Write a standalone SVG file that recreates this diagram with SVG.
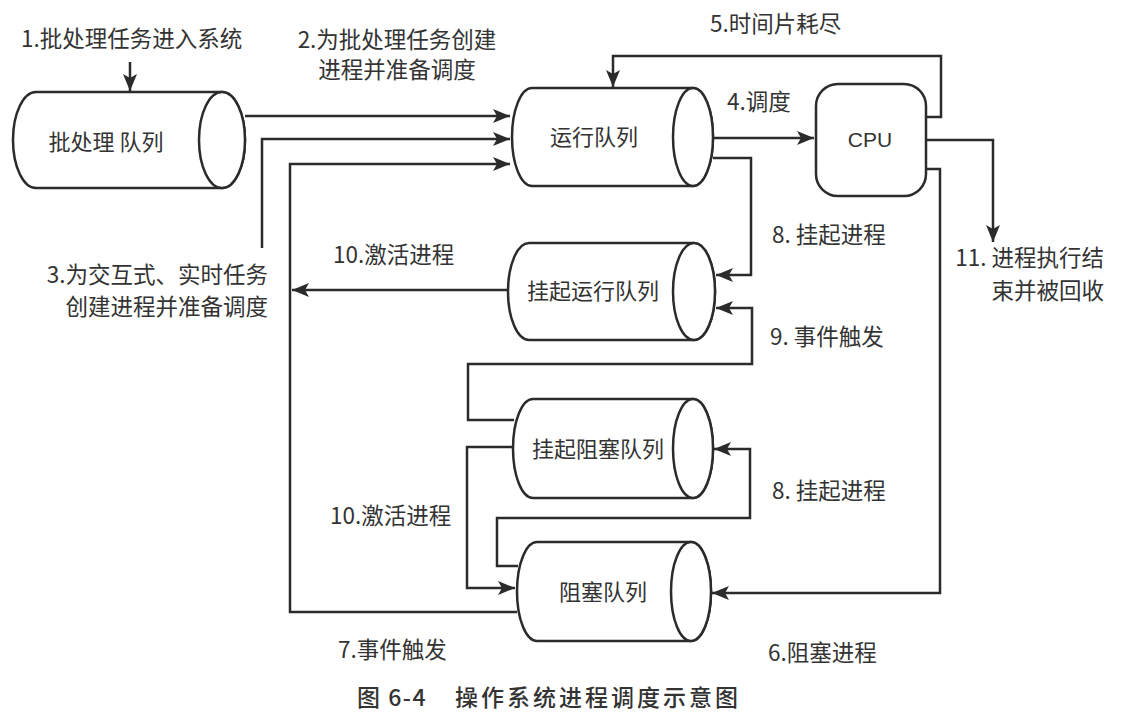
<svg xmlns="http://www.w3.org/2000/svg" width="1139" height="724" viewBox="0 0 1139 724">
<style>
.t{font-family:"Noto Sans CJK SC","Noto Sans",sans-serif;font-size:22.5px;fill:#333}
.n{font-family:"Noto Sans CJK SC","Noto Sans",sans-serif;font-size:22px;fill:#333}
.cy{fill:#fff;stroke:#2b2b2b;stroke-width:2.5}
.c{fill:none;stroke:#2b2b2b;stroke-width:2.5}
.a{marker-end:url(#ah)}
</style>
<defs>
<marker id="ah" markerUnits="userSpaceOnUse" markerWidth="18" markerHeight="14" refX="17" refY="7" orient="auto">
<path d="M0,0 L17,7 L0,14 L4,7 Z" fill="#2b2b2b"/>
</marker>
</defs>
<rect width="1139" height="724" fill="#fff"/>

<g id="connectors">
<path class="c a" d="M130,62 L130,91"/>
<path class="c a" d="M245,116 L510,116"/>
<path class="c a" d="M262,248 L262,139 L510,139"/>
<path class="c a" d="M517,612 L290,612 L290,164 L510,164"/>
<path class="c a" d="M713,138 L814,138"/>
<path class="c a" d="M926,117 L941,117 L941,56 L613,56 L613,87"/>
<path class="c a" d="M926,140 L993,140 L993,242"/>
<path class="c a" d="M926,169 L940,169 L940,593 L712,593"/>
<path class="c a" d="M713,158 L751,158 L751,275 L716,275"/>
<path class="c a" d="M508,290 L292,290"/>
<path class="c a" d="M514,420 L468,420 L468,364 L752,364 L752,308 L716,308"/>
<path class="c a" d="M518,566 L497,566 L497,518 L750,518 L750,449 L714,449"/>
<path class="c a" d="M514,447 L467,447 L467,588 L515,588"/>
</g>

<g id="batch-queue">
<path class="cy" d="M36,92 L222,92 A23,48 0 0 1 222,188 L36,188 A23,48 0 0 1 36,92 Z"/>
<ellipse class="cy" cx="222" cy="140" rx="23" ry="48"/>
<text class="n" x="106" y="150" text-anchor="middle">批处理 队列</text>
</g>

<g id="run-queue">
<path class="cy" d="M532,88 L693,88 A20,49 0 0 1 693,186 L532,186 A20,49 0 0 1 532,88 Z"/>
<ellipse class="cy" cx="693" cy="137" rx="20" ry="49"/>
<text class="n" x="594" y="145" text-anchor="middle">运行队列</text>
</g>

<g id="cpu">
<rect class="cy" x="816" y="84" width="110" height="112" rx="22"/>
<text x="870" y="147" text-anchor="middle" style="font-family:'Liberation Sans',Arial,sans-serif;font-size:21px;fill:#333">CPU</text>
</g>

<g id="suspended-run-queue">
<path class="cy" d="M529,243 L694,243 A21,48.5 0 0 1 694,340 L529,340 A21,48.5 0 0 1 529,243 Z"/>
<ellipse class="cy" cx="694" cy="291.5" rx="21" ry="48.5"/>
<text class="n" x="593" y="299" text-anchor="middle">挂起运行队列</text>
</g>

<g id="suspended-blocked-queue">
<path class="cy" d="M533,399 L693,399 A20,49.5 0 0 1 693,498 L533,498 A20,49.5 0 0 1 533,399 Z"/>
<ellipse class="cy" cx="693" cy="448.5" rx="20" ry="49.5"/>
<text class="n" x="598" y="457" text-anchor="middle">挂起阻塞队列</text>
</g>

<g id="blocked-queue">
<path class="cy" d="M537,542 L691,542 A20,49.5 0 0 1 691,641 L537,641 A20,49.5 0 0 1 537,542 Z"/>
<ellipse class="cy" cx="691" cy="591.5" rx="20" ry="49.5"/>
<text class="n" x="603" y="600" text-anchor="middle">阻塞队列</text>
</g>

<g id="labels">
<text class="t" x="21" y="47">1.批处理任务进入系统</text>
<text class="t" x="397" y="48" text-anchor="middle">2.为批处理任务创建</text>
<text class="t" x="397" y="78" text-anchor="middle">进程并准备调度</text>
<text class="t" x="710" y="32">5.时间片耗尽</text>
<text class="t" x="727" y="110">4.调度</text>
<text class="t" x="772" y="243">8. 挂起进程</text>
<text class="t" x="1104" y="266" text-anchor="end">11. 进程执行结</text>
<text class="t" x="1104" y="299" text-anchor="end">束并被回收</text>
<text class="t" x="268" y="283" text-anchor="end">3.为交互式、实时任务</text>
<text class="t" x="268" y="315" text-anchor="end">创建进程并准备调度</text>
<text class="t" x="333" y="263">10.激活进程</text>
<text class="t" x="770" y="345">9. 事件触发</text>
<text class="t" x="772" y="499">8. 挂起进程</text>
<text class="t" x="330" y="524">10.激活进程</text>
<text class="t" x="338" y="658">7.事件触发</text>
<text class="t" x="768" y="661">6.阻塞进程</text>
<text x="357" y="706" style="font-family:'Noto Sans CJK SC','Noto Sans',sans-serif;font-size:23px;fill:#333;font-weight:500;letter-spacing:1.5px">图 6-4</text>
<text x="455" y="706" style="font-family:'Noto Sans CJK SC','Noto Sans',sans-serif;font-size:23px;fill:#333;font-weight:500;letter-spacing:3px">操作系统进程调度示意图</text>
</g>
</svg>
